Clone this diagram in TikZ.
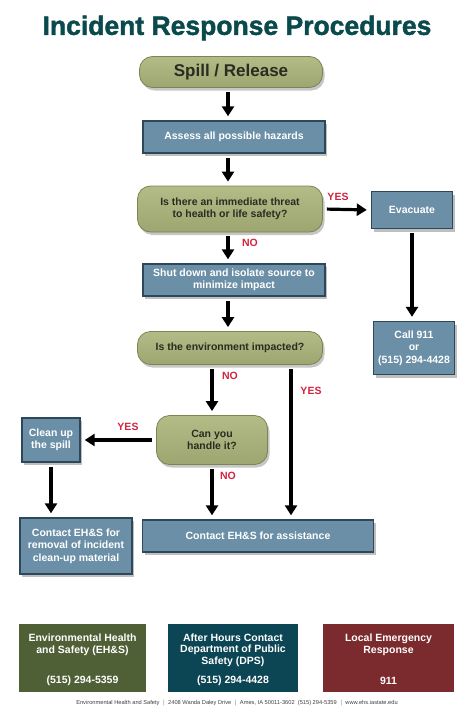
\documentclass[tikz,border=0pt]{standalone}
\usepackage{fontspec}
\setmainfont{Liberation Sans}
\newfontfamily\heavyfont{Liberation Sans Bold}[FakeBold=1.6]
\usetikzlibrary{arrows.meta,shadows}

\definecolor{titleteal}{HTML}{0B4A4C}
\definecolor{olivefill}{HTML}{9DA670}
\definecolor{olivelight}{HTML}{B3BB87}
\definecolor{oliveedge}{HTML}{7C8452}
\definecolor{asktext}{HTML}{2B2B22}
\definecolor{boxfill}{HTML}{6B8FA6}
\definecolor{boxedge}{HTML}{2D4859}
\definecolor{answerred}{HTML}{D2233F}
\definecolor{ehsgreen}{HTML}{4F5F36}
\definecolor{dpsteal}{HTML}{0C4553}
\definecolor{localred}{HTML}{7B2B2E}

\begin{document}
\begin{tikzpicture}[x=1pt,y=-1pt,font=\bfseries\fontsize{10.5}{12.5}\selectfont,
  decision/.style={draw=oliveedge,line width=.8pt,rounded corners=13pt,
    top color=olivelight,bottom color=olivefill,text=asktext,align=center,
    inner sep=0pt,drop shadow={shadow xshift=2pt,shadow yshift=-3pt,opacity=.45}},
  stepbox/.style={draw=boxedge,line width=1.4pt,fill=boxfill,text=white,
    align=center,inner sep=0pt,drop shadow={shadow xshift=2pt,shadow yshift=-3pt,opacity=.5}},
  flow/.style={line width=3.2pt,-{Triangle[width=12pt,length=10pt]},
    shorten <=4pt,shorten >=4pt},
  answer/.style={text=answerred,font=\bfseries\fontsize{10.5}{12}\selectfont},
  infobox/.style={minimum width=128pt,minimum height=68pt,inner sep=0pt},
  infotext/.style={text=white,align=center,font=\bfseries\fontsize{10.5}{11.5}\selectfont}]

\useasboundingbox (0,0) rectangle (474,720);

% title
\node (title) at (237,28) [text=titleteal,font=\heavyfont\fontsize{26.5}{30}\selectfont] {Incident Response Procedures};

% flow chart
\node (spill) at (231,72) [decision,minimum width=183pt,minimum height=31pt,font=\bfseries\fontsize{17}{19}\selectfont] {Spill / Release};
\node (assess) at (234,137) [stepbox,minimum width=182pt,minimum height=32pt] {Assess all possible hazards};
\node (threat) at (230,209) [decision,minimum width=185pt,minimum height=46pt] {Is there an immediate threat\\to health or life safety?};
\node (evac) at (412,210) [stepbox,minimum width=81pt,minimum height=37pt] {Evacuate};
\node (call) at (414,348) [stepbox,minimum width=81pt,minimum height=53pt] {Call 911\\or\\(515) 294-4428};
\node (shut) at (234,280) [stepbox,minimum width=182pt,minimum height=32pt] {Shut down and isolate source to\\minimize impact};
\node (env) at (230,348) [decision,minimum width=185pt,minimum height=33pt] {Is the environment impacted?};
\node (handle) at (212,440) [decision,minimum width=111pt,minimum height=49pt] {Can you\\handle it?};
\node (clean) at (51,440) [stepbox,minimum width=58pt,minimum height=44pt] {Clean up\\the spill};
\node (removal) at (76,546) [stepbox,minimum width=112pt,minimum height=56pt] {Contact EH\&S for\\removal of incident\\clean-up material};
\node (assist) at (258,536) [stepbox,minimum width=231pt,minimum height=32pt] {Contact EH\&S for assistance};

\coordinate (axis) at (228,0);
\coordinate (yesline) at (291,0);
\path[flow] (spill.south -| axis) edge (assess.north -| axis)
            (assess.south -| axis) edge (threat.north -| axis)
            (threat.south -| axis) edge (shut.north -| axis)
            (shut.south -| axis) edge (env.north -| axis)
            (threat.east) edge (evac.west)
            (evac.south) edge (evac.south |- call.north)
            (env.south -| handle.north) edge (handle.north)
            (env.south -| yesline) edge (assist.north -| yesline)
            (handle.west) edge (clean.east)
            (clean.south) edge (clean.south |- removal.north)
            (handle.south) edge (handle.south |- assist.north);

\node (yes1) at (338,197) [answer] {YES};
\node (no1) at (250,243) [answer] {NO};
\node (no2) at (230,376) [answer] {NO};
\node (yes2) at (311,391) [answer] {YES};
\node (yes3) at (128,427) [answer] {YES};
\node (no3) at (228,476) [answer] {NO};

% contact boxes
\node (ehs) at (82.5,658) [infobox,fill=ehsgreen,minimum width=127pt] {};
\node (dps) at (233,658) [infobox,fill=dpsteal,minimum width=130pt] {};
\node (local) at (388.5,658) [infobox,fill=localred,minimum width=131pt] {};
\node (ehsname) at (82.5,645) [infotext] {Environmental Health\\and Safety (EH\&S)};
\node (dpsname) at (233,650) [infotext] {After Hours Contact\\Department of Public\\Safety (DPS)};
\node (localname) at (388.5,645) [infotext] {Local Emergency\\Response};
\node (ehsphone) at (82.5,681) [infotext] {(515) 294-5359};
\node (dpsphone) at (233,681) [infotext] {(515) 294-4428};
\node (localphone) at (388.5,681) [infotext] {911};

\node (footer) at (237,703) [text=black!75,font=\fontsize{5.7}{7}\selectfont] {Environmental Health and Safety \ $|$ \ 2408 Wanda Daley Drive \ $|$ \ Ames, IA\ 50011-3602\ \ (515) 294-5359 \ $|$ \ www.ehs.iastate.edu};
\end{tikzpicture}
\end{document}
